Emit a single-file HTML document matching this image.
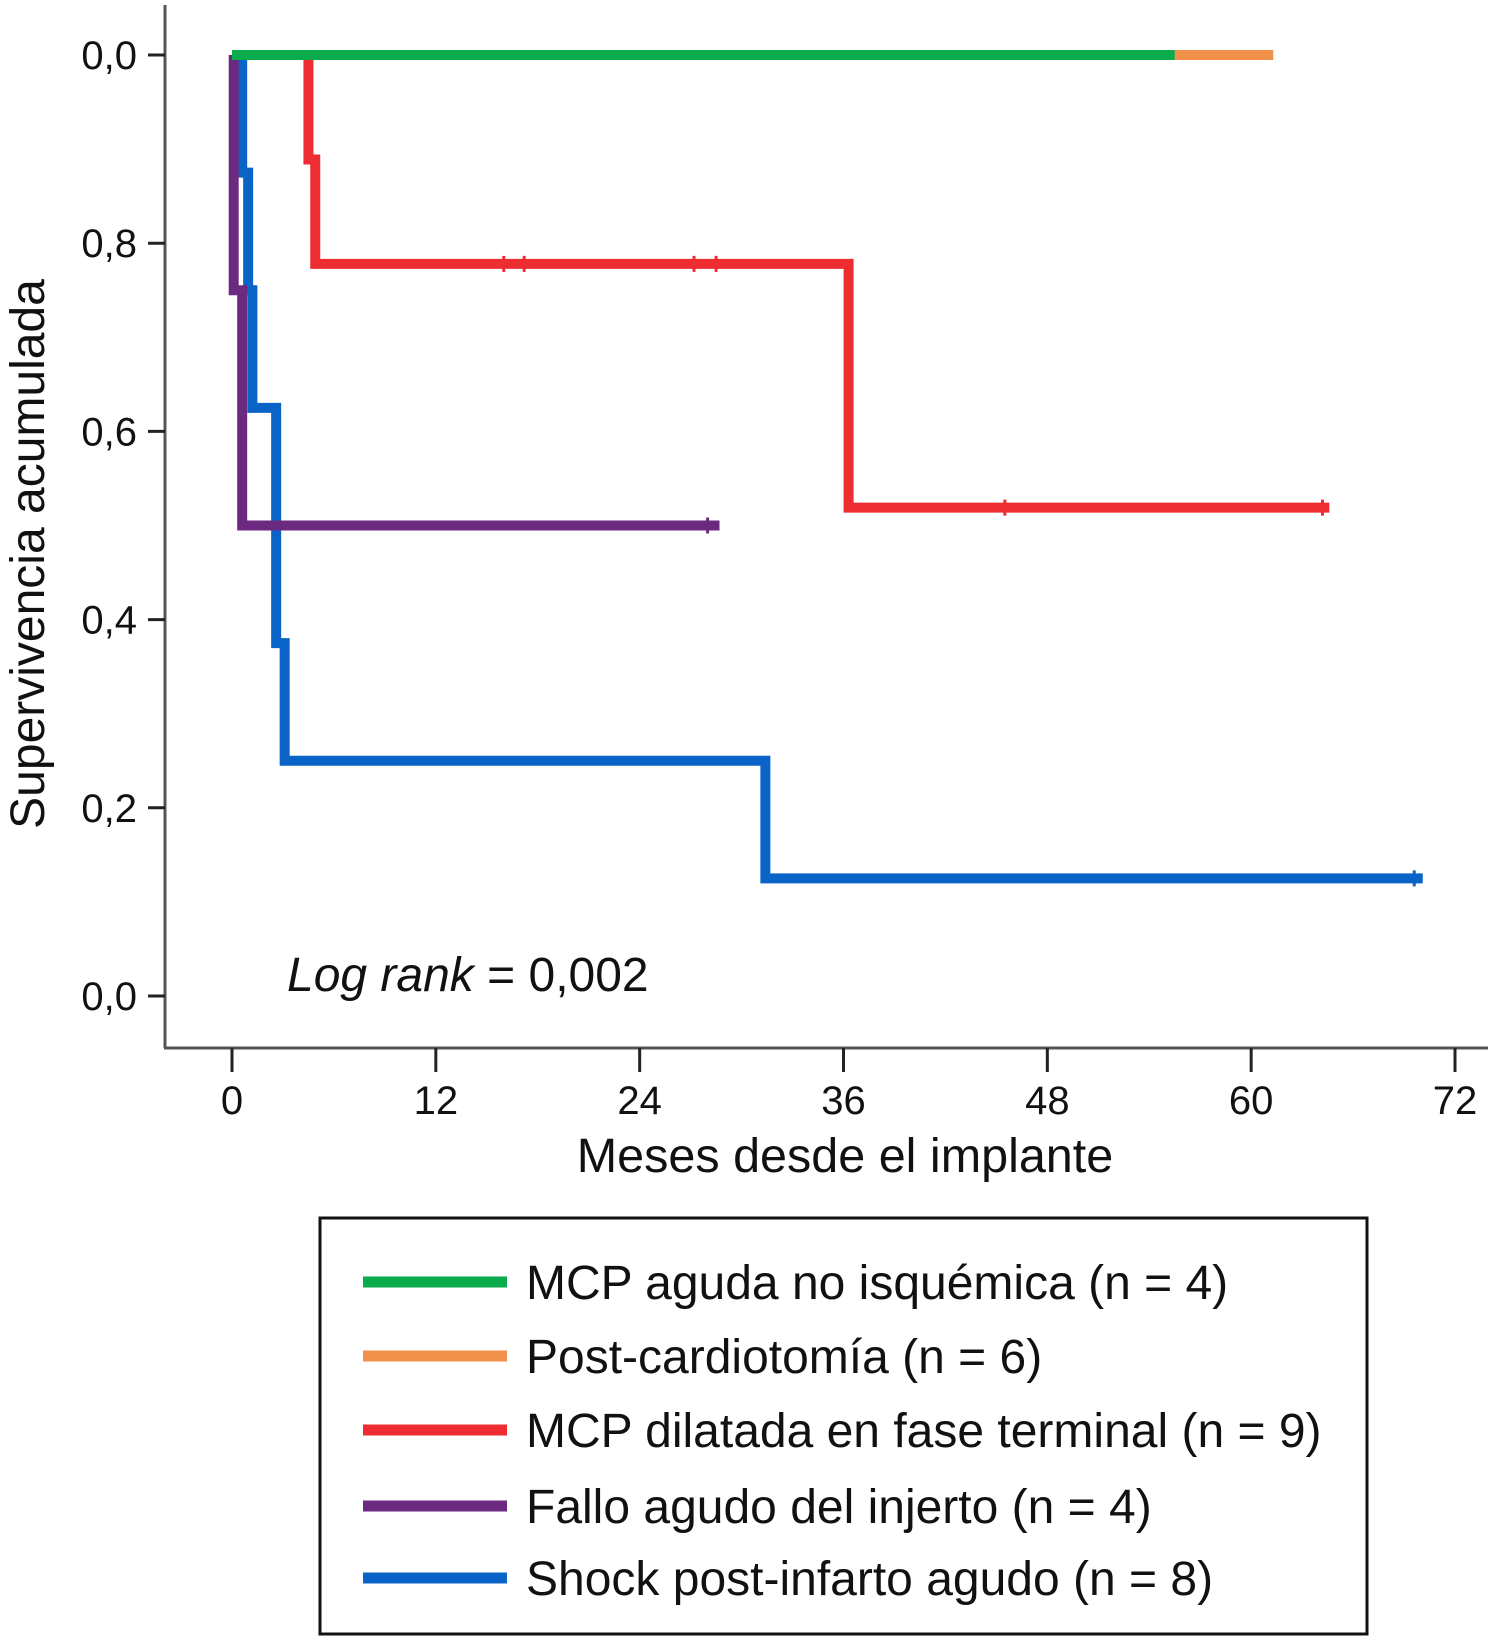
<!DOCTYPE html>
<html><head><meta charset="utf-8"><style>
html,body{margin:0;padding:0;background:#fff;}
svg{display:block;font-family:"Liberation Sans",sans-serif;}
</style></head><body>
<svg id="chart" width="1494" height="1639" viewBox="0 0 1494 1639" xmlns="http://www.w3.org/2000/svg">
<g id="axes"></g>
<g id="series"></g>
<text transform="translate(44,554) rotate(-90)" text-anchor="middle" font-size="48" fill="#111">Supervivencia acumulada</text>
<text x="845" y="1172" text-anchor="middle" font-size="48.5" fill="#111">Meses desde el implante</text>
<text x="287" y="991" font-size="48" fill="#111"><tspan font-style="italic">Log rank</tspan> = 0,002</text>
<g>
<rect x="320" y="1218" width="1047" height="416" fill="none" stroke="#111" stroke-width="3"/>
<g id="legend-items"></g>
</g>
</svg>
<script>
const xTicks=[0,12,24,36,48,60,72];
const yTicks=[0,0.2,0.4,0.6,0.8,1.0];
const yTickLabels=["0,0","0,2","0,4","0,6","0,8","0,0"];
const seriesNames=["MCP aguda no isquémica (n = 4)","Post-cardiotomía (n = 6)","MCP dilatada en fase terminal (n = 9)","Fallo agudo del injerto (n = 4)","Shock post-infarto agudo (n = 8)"];
const seriesColors=["#0aab4a","#f0904a","#ee2d33","#6b2a80","#0a64c8"];
const orangeT=[0,61.3]; const orangeS=[1,1];
const greenT=[0,55.5]; const greenS=[1,1];
const redT=[0,4.5,4.9,36.3,64.6]; const redS=[1,0.889,0.778,0.519,0.519];
const purpleT=[0.1,0.1,0.6,28.7]; const purpleS=[1,0.75,0.5,0.5];
const blueT=[0.6,0.6,0.95,1.2,2.6,2.6,3.1,31.4,70.1]; const blueS=[1,0.875,0.75,0.625,0.5,0.375,0.25,0.125,0.125];
const redCensor=[16,17.2,27.2,28.5,45.5,64.2]; const redCensorS=[0.778,0.778,0.778,0.778,0.519,0.519];
const purpleCensor=[28]; const purpleCensorS=[0.5];
const blueCensor=[69.6]; const blueCensorS=[0.125];

const NS="http://www.w3.org/2000/svg";
const X=t=>232+t*(1455-232)/72;
const Y=v=>996-v*(996-55);
function mk(tag,attrs,parent){const e=document.createElementNS(NS,tag);for(const k in attrs)e.setAttribute(k,attrs[k]);parent.appendChild(e);return e;}
const axes=document.getElementById('axes');
let a=mk('line',{x1:165,y1:5,x2:165,y2:1048,stroke:'#555','stroke-width':3},axes);


a=mk('line',{x1:164,y1:1048,x2:1488,y2:1048,stroke:'#555','stroke-width':3},axes);


xTicks.forEach(t=>{
 const l=mk('line',{x1:X(t),y1:1048,x2:X(t),y2:1072,stroke:'#222','stroke-width':3},axes);
 
 
 const tx=mk('text',{x:X(t),y:1114,'text-anchor':'middle','font-size':40,fill:'#111'},axes);
 tx.textContent=t;
 
 
});
yTicks.forEach((v,i)=>{
 const l=mk('line',{x1:148,y1:Y(v),x2:165,y2:Y(v),stroke:'#222','stroke-width':3},axes);
 
 
 const tx=mk('text',{x:137,y:Y(v)+14,'text-anchor':'end','font-size':40,fill:'#111'},axes);
 tx.textContent=yTickLabels[i];
 
 
});
const sg=document.getElementById('series');
function step(T,S,color,name){
 let d='M'+X(T[0])+','+Y(S[0]);
 for(let i=1;i<T.length;i++){d+=' H'+X(T[i])+' V'+Y(S[i]);}
 const p=mk('path',{d:d,fill:'none',stroke:color,'stroke-width':10},sg);
 
 
}
function censor(T,S,color,name){
 T.forEach((t,i)=>{
  const c=mk('line',{x1:X(t),y1:Y(S[i])-8,x2:X(t),y2:Y(S[i])+8,stroke:color,'stroke-width':3},sg);
  
  
 });
}
step(orangeT,orangeS,seriesColors[1],'post-cardiotomy-curve');
step(blueT,blueS,seriesColors[4],'shock-curve');
step(redT,redS,seriesColors[2],'dilated-cmp-curve');
step(purpleT,purpleS,seriesColors[3],'graft-failure-curve');
step(greenT,greenS,seriesColors[0],'acute-cmp-curve');
censor(redCensor,redCensorS,seriesColors[2],'censor-mark-red');
censor(purpleCensor,purpleCensorS,seriesColors[3],'censor-mark-purple');
censor(blueCensor,blueCensorS,seriesColors[4],'censor-mark-blue');
const lg=document.getElementById('legend-items');
const legY=[1282,1356,1430,1506,1578];
seriesNames.forEach((n,i)=>{
 const l=mk('line',{x1:363,y1:legY[i],x2:507,y2:legY[i],stroke:seriesColors[i],'stroke-width':11},lg);
 
 
 const t=mk('text',{x:526,y:legY[i]+17,'font-size':48,fill:'#111'},lg);
 t.textContent=n;
 
 
});
</script>
</body></html>
